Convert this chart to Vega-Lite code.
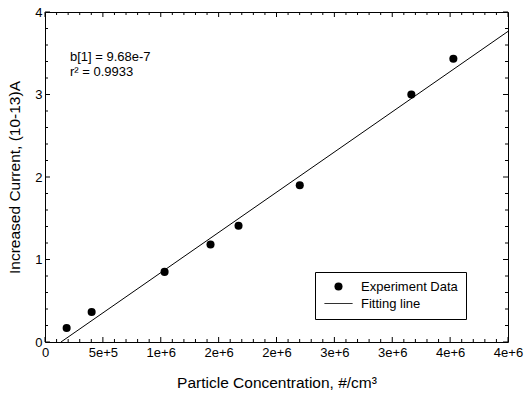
{
  "$schema": "https://vega.github.io/schema/vega-lite/v6.json",
  "width": 463,
  "height": 330,
  "autosize": {"type": "none"},
  "padding": {"left": 45, "top": 12, "right": 24, "bottom": 52},
  "background": "white",
  "config": {
    "font": "Liberation Sans",
    "view": {"stroke": "black", "strokeWidth": 1},
    "axis": {"grid": false, "domain": false, "ticks": true, "tickOpacity": 0, "labelColor": "black", "titleColor": "black", "labelFont": "Liberation Sans", "titleFont": "Liberation Sans", "titleFontWeight": "normal"}
  },
  "datasets": {
    "points": [
      {"conc": 187000, "current": 0.17, "series": "Experiment Data"},
      {"conc": 403000, "current": 0.364, "series": "Experiment Data"},
      {"conc": 1033000, "current": 0.85, "series": "Experiment Data"},
      {"conc": 1430000, "current": 1.182, "series": "Experiment Data"},
      {"conc": 1672000, "current": 1.409, "series": "Experiment Data"},
      {"conc": 2201000, "current": 1.899, "series": "Experiment Data"},
      {"conc": 3165000, "current": 3.0, "series": "Experiment Data"},
      {"conc": 3528000, "current": 3.433, "series": "Experiment Data"}
    ],
    "fit": [
      {"conc": 138000, "current": 0.0},
      {"conc": 4000000, "current": 3.765}
    ],
    "notes": [
      {"conc": 216000, "current": 3.45, "note": "b[1] = 9.68e-7"},
      {"conc": 216000, "current": 3.27, "note": "r² = 0.9933"}
    ],
    "xmaj": [{"v": 0}, {"v": 500000}, {"v": 1000000}, {"v": 1500000}, {"v": 2000000}, {"v": 2500000}, {"v": 3000000}, {"v": 3500000}, {"v": 4000000}],
    "xmin": [{"v": 100000}, {"v": 200000}, {"v": 300000}, {"v": 400000}, {"v": 600000}, {"v": 700000}, {"v": 800000}, {"v": 900000}, {"v": 1100000}, {"v": 1200000}, {"v": 1300000}, {"v": 1400000}, {"v": 1600000}, {"v": 1700000}, {"v": 1800000}, {"v": 1900000}, {"v": 2100000}, {"v": 2200000}, {"v": 2300000}, {"v": 2400000}, {"v": 2600000}, {"v": 2700000}, {"v": 2800000}, {"v": 2900000}, {"v": 3100000}, {"v": 3200000}, {"v": 3300000}, {"v": 3400000}, {"v": 3600000}, {"v": 3700000}, {"v": 3800000}, {"v": 3900000}],
    "ymaj": [{"v": 0}, {"v": 1}, {"v": 2}, {"v": 3}, {"v": 4}],
    "ymin": [{"v": 0.2}, {"v": 0.4}, {"v": 0.6}, {"v": 0.8}, {"v": 1.2}, {"v": 1.4}, {"v": 1.6}, {"v": 1.8}, {"v": 2.2}, {"v": 2.4}, {"v": 2.6}, {"v": 2.8}, {"v": 3.2}, {"v": 3.4}, {"v": 3.6}, {"v": 3.8}]
  },
  "layer": [
    {
      "data": {"name": "fit"},
      "mark": {"type": "line", "color": "black", "strokeWidth": 1},
      "encoding": {
        "x": {"field": "conc", "type": "quantitative", "scale": {"domain": [0, 4000000], "nice": false, "zero": false},
          "axis": {"orient": "bottom", "offset": -5, "values": [0, 500000, 1000000, 1500000, 2000000, 2500000, 3000000, 3500000, 4000000],
            "labelExpr": "datum.value == 0 ? '0' : format(datum.value, '.0e')", "tickSize": 5, "labelPadding": 4, "labelFontSize": 13,
            "labelFlush": false, "labelOverlap": false,
            "title": "Particle Concentration, #/cm³", "titleFontSize": 15.5, "titlePadding": 16}},
        "y": {"field": "current", "type": "quantitative", "scale": {"domain": [0, 4], "nice": false},
          "axis": {"orient": "left", "offset": -5, "values": [0, 1, 2, 3, 4], "format": "d", "tickSize": 5, "labelPadding": 3, "labelFontSize": 13,
            "title": "Increased Current, (10-13)A", "titleFontSize": 15.5, "titlePadding": 12}}
      }
    },
    {
      "data": {"name": "xmaj"},
      "mark": {"type": "tick", "orient": "vertical", "size": 5, "thickness": 1, "color": "black", "opacity": 1, "yOffset": -2.5},
      "encoding": {"x": {"field": "v", "type": "quantitative"}, "y": {"datum": 0, "type": "quantitative"}}
    },
    {
      "data": {"name": "xmaj"},
      "mark": {"type": "tick", "orient": "vertical", "size": 5, "thickness": 1, "color": "black", "opacity": 1, "yOffset": 2.5},
      "encoding": {"x": {"field": "v", "type": "quantitative"}, "y": {"datum": 4, "type": "quantitative"}}
    },
    {
      "data": {"name": "xmin"},
      "mark": {"type": "tick", "orient": "vertical", "size": 3, "thickness": 1, "color": "black", "opacity": 1, "yOffset": -1.5},
      "encoding": {"x": {"field": "v", "type": "quantitative"}, "y": {"datum": 0, "type": "quantitative"}}
    },
    {
      "data": {"name": "xmin"},
      "mark": {"type": "tick", "orient": "vertical", "size": 3, "thickness": 1, "color": "black", "opacity": 1, "yOffset": 1.5},
      "encoding": {"x": {"field": "v", "type": "quantitative"}, "y": {"datum": 4, "type": "quantitative"}}
    },
    {
      "data": {"name": "ymaj"},
      "mark": {"type": "tick", "orient": "horizontal", "size": 5, "thickness": 1, "color": "black", "opacity": 1, "xOffset": 2.5},
      "encoding": {"y": {"field": "v", "type": "quantitative"}, "x": {"datum": 0, "type": "quantitative"}}
    },
    {
      "data": {"name": "ymaj"},
      "mark": {"type": "tick", "orient": "horizontal", "size": 5, "thickness": 1, "color": "black", "opacity": 1, "xOffset": -2.5},
      "encoding": {"y": {"field": "v", "type": "quantitative"}, "x": {"datum": 4000000, "type": "quantitative"}}
    },
    {
      "data": {"name": "ymin"},
      "mark": {"type": "tick", "orient": "horizontal", "size": 3, "thickness": 1, "color": "black", "opacity": 1, "xOffset": 1.5},
      "encoding": {"y": {"field": "v", "type": "quantitative"}, "x": {"datum": 0, "type": "quantitative"}}
    },
    {
      "data": {"name": "ymin"},
      "mark": {"type": "tick", "orient": "horizontal", "size": 3, "thickness": 1, "color": "black", "opacity": 1, "xOffset": -1.5},
      "encoding": {"y": {"field": "v", "type": "quantitative"}, "x": {"datum": 4000000, "type": "quantitative"}}
    },
    {
      "data": {"name": "points"},
      "mark": {"type": "point", "filled": true, "color": "black", "opacity": 1, "size": 65},
      "encoding": {
        "x": {"field": "conc", "type": "quantitative"},
        "y": {"field": "current", "type": "quantitative"},
        "shape": {"field": "series", "type": "nominal",
          "scale": {"domain": ["Experiment Data", "Fitting line"], "range": ["circle", "M-3.5,-0.1H3.5V0.1H-3.5Z"]},
          "legend": {"title": null, "orient": "none", "legendX": 270, "legendY": 260, "strokeColor": "black",
            "padding": 8, "labelFontSize": 13, "labelFont": "Liberation Sans", "labelColor": "black", "rowPadding": 3,
            "symbolSize": 65, "symbolOffset": 9, "labelOffset": 16,
            "symbolFillColor": "black", "symbolStrokeColor": "black", "symbolStrokeWidth": 0.6}}
      }
    },
    {
      "data": {"name": "notes"},
      "mark": {"type": "text", "align": "left", "baseline": "middle", "fontSize": 13, "font": "Liberation Sans", "color": "black"},
      "encoding": {
        "x": {"field": "conc", "type": "quantitative"},
        "y": {"field": "current", "type": "quantitative"},
        "text": {"field": "note"}
      }
    }
  ]
}
